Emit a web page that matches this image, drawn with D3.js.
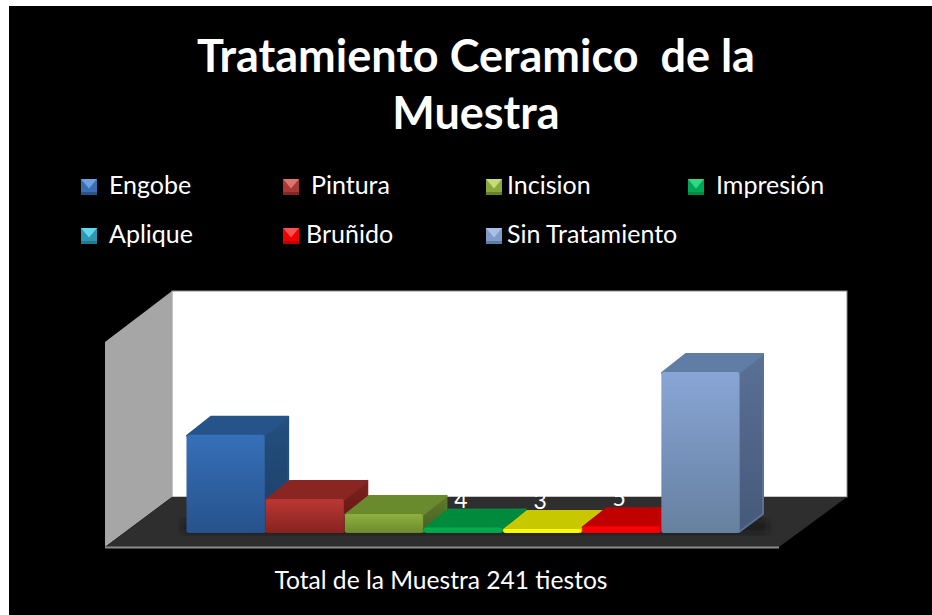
<!DOCTYPE html>
<html>
<head>
<meta charset="utf-8">
<script src="https://d3js.org/d3.v7.min.js"></script>
<style>
html, body {margin: 0; padding: 0; background: white;}
svg {display: block;}
text {font-family: Lato, "Open Sans", sans-serif; fill: white;}
</style>
</head>
<body>
<svg width="932" height="615"></svg>
<script>
// values
var categories = ["Engobe", "Pintura", "Incision", "Impresión", "Aplique", "Bruñido", "Sin Tratamiento"];
var values = [72, 25, 14, 4, 3, 5, 118];
var titleLines = ["Tratamiento Ceramico  de la", "Muestra"];
var footer = "Total de la Muestra 241 tiestos";

// colors per category: front top, front bottom, top face, side top, side bottom
var frontTop = ["#3670b8", "#bb3834", "#8fb13f", "#00b050", "#ffff00", "#ff0000", "#88a5d6"];
var frontBottom = ["#27528c", "#86231f", "#6c8a2e", "#00a049", "#f5f500", "#f20000", "#66809f"];
var topFace = ["#26548a", "#8a2622", "#6a8a2e", "#008a3e", "#c8c800", "#c00000", "#607da6"];
var sideTop = ["#24507f", "#7c211d", "#5f7a2a", "#007a37", "#b0b000", "#a80000", "#5a7095"];
var sideBottom = ["#1c3d66", "#5e1714", "#4a6020", "#006a30", "#909000", "#900000", "#45597a"];
var swatchLight = ["#6fa0e0", "#dc7470", "#c6dc78", "#33d884", "#5fd8ee", "#ff5050", "#a8c0e6"];
var swatchMid = ["#3a6eb0", "#a83a36", "#8aa63e", "#00a653", "#2f98b0", "#f00000", "#7f9cc8"];
var swatchDark = ["#2a5288", "#7e2825", "#66802c", "#008a42", "#237a90", "#c00000", "#5f7ba6"];

// layout
var svg = d3.select("svg");
var W = 932, H = 615;
var depthX = 24, depthY = 19;
var base = 533;
var wall = {left: 172, right: 847, top: 291, bottom: 497};
var floorFront = {left: 105, right: 779, y: 547};
var sideTopY = 342;

var x = d3.scaleBand().domain(categories).range([186, 740]).padding(0);
var y = d3.scaleLinear().domain([0, 118]).range([base, 372]);

svg.append("rect").attr("x", 9).attr("y", 6).attr("width", W - 9).attr("height", H - 6).attr("fill", "black");

// title and footer
svg.append("g").selectAll("text").data(titleLines).enter().append("text")
    .attr("x", 476)
    .attr("y", function(d, i) { return 72 + i * 57; })
    .attr("text-anchor", "middle")
    .style("font-size", "45px")
    .style("font-weight", "700")
    .style("white-space", "pre")
    .text(function(d) { return d; });

svg.append("text").attr("x", 441).attr("y", 589).attr("text-anchor", "middle")
    .style("font-size", "24.6px").text(footer);

// legend
var legendX = [81, 283, 486, 688, 81, 283, 486];
var legendTextX = [109, 311, 507, 716, 109, 306, 507];
var legendY = [179, 179, 179, 179, 228, 228, 228];
var sw = 16;
var legend = svg.append("g").selectAll("g").data(categories).enter().append("g")
    .attr("transform", function(d, i) { return "translate(" + legendX[i] + "," + legendY[i] + ")"; });
legend.append("rect").attr("width", sw).attr("height", sw)
    .attr("fill", function(d, i) { return swatchMid[i]; });
legend.append("path").attr("d", "M0,0H" + sw + "L" + sw / 2 + "," + sw * 0.6 + "Z")
    .attr("fill", function(d, i) { return swatchLight[i]; });
legend.append("path").attr("d", "M0," + sw + "H" + sw + "V" + (sw - 3) + "H0Z")
    .attr("fill", function(d, i) { return swatchDark[i]; });
legend.append("text")
    .attr("x", function(d, i) { return legendTextX[i] - legendX[i]; })
    .attr("y", 15)
    .style("font-size", "25px")
    .text(function(d) { return d; });

// 3d walls and floor
svg.append("rect").attr("x", wall.left).attr("y", wall.top)
    .attr("width", wall.right - wall.left).attr("height", wall.bottom - wall.top)
    .attr("fill", "white").attr("stroke", "#8c8c8c").attr("stroke-width", 1);
svg.append("path")
    .attr("d", d3.line()([[floorFront.left, sideTopY], [wall.left, wall.top], [wall.left, wall.bottom], [floorFront.left, floorFront.y]]) + "Z")
    .attr("fill", "#a6a6a6");
svg.append("path")
    .attr("d", d3.line()([[floorFront.left, floorFront.y], [wall.left, wall.bottom], [wall.right, wall.bottom], [floorFront.right, floorFront.y]]) + "Z")
    .attr("fill", "#2e2e2e");
svg.append("line").attr("x1", floorFront.left).attr("x2", floorFront.right)
    .attr("y1", floorFront.y + 0.5).attr("y2", floorFront.y + 0.5)
    .attr("stroke", "#8c8c8c").attr("stroke-width", 2);

// gradients
var defs = svg.append("defs");
categories.forEach(function(c, i) {
    var g1 = defs.append("linearGradient").attr("id", "front" + i).attr("x1", 0).attr("y1", 0).attr("x2", 0).attr("y2", 1);
    g1.append("stop").attr("offset", 0).attr("stop-color", frontTop[i]);
    g1.append("stop").attr("offset", 1).attr("stop-color", frontBottom[i]);
    var g2 = defs.append("linearGradient").attr("id", "side" + i).attr("x1", 0).attr("y1", 0).attr("x2", 0).attr("y2", 1);
    g2.append("stop").attr("offset", 0).attr("stop-color", sideTop[i]);
    g2.append("stop").attr("offset", 1).attr("stop-color", sideBottom[i]);
});
var blur = defs.append("filter").attr("id", "soft").attr("x", "-20%").attr("y", "-20%").attr("width", "140%").attr("height", "140%");
blur.append("feGaussianBlur").attr("stdDeviation", 3);

// shadow under the bars on the floor
svg.append("rect").attr("x", x.range()[0] - 4).attr("y", base - depthY + 6)
    .attr("width", x.range()[1] - x.range()[0] + depthX + 8).attr("height", depthY - 6)
    .attr("fill", "#111").attr("opacity", 0.5).attr("filter", "url(#soft)");

// data labels sit behind the bars, white on white for the tall ones
svg.append("g").selectAll("text").data(values).enter().append("text")
    .attr("x", function(d, i) { return x(categories[i]) + x.bandwidth() / 2 - 2; })
    .attr("y", function(d) { return y(d) - depthY - 1; })
    .attr("text-anchor", "middle")
    .style("font-size", "23px")
    .text(function(d) { return d; });

// bars, left to right so that each one covers the previous side
var bars = svg.append("g").selectAll("g").data(values).enter().append("g");
var bw = x.bandwidth();
bars.append("path").attr("class", "side")
    .attr("d", function(d, i) {
        var x1 = x(categories[i]) + bw - 1, t = y(d) + 1;
        return d3.line()([[x1, t], [x1 + depthX, t - depthY], [x1 + depthX, base - depthY], [x1, base - 1]]) + "Z";
    })
    .attr("fill", function(d, i) { return "url(#side" + i + ")"; })
    .attr("stroke", function(d, i) { return sideTop[i]; }).attr("stroke-width", 2).attr("stroke-linejoin", "round");
bars.append("path").attr("class", "top")
    .attr("d", function(d, i) {
        var x0 = x(categories[i]) + 1, t = y(d) + 1;
        return d3.line()([[x0, t], [x0 + depthX, t - depthY], [x0 + bw + depthX - 2, t - depthY], [x0 + bw - 2, t]]) + "Z";
    })
    .attr("fill", function(d, i) { return topFace[i]; })
    .attr("stroke", function(d, i) { return topFace[i]; }).attr("stroke-width", 2).attr("stroke-linejoin", "round");
bars.append("rect").attr("class", "front")
    .attr("x", function(d, i) { return x(categories[i]) + 0.5; })
    .attr("y", function(d) { return y(d); })
    .attr("width", bw - 1)
    .attr("height", function(d) { return base - y(d); })
    .attr("rx", 2.5)
    .attr("fill", function(d, i) { return "url(#front" + i + ")"; });
</script>
</body>
</html>
